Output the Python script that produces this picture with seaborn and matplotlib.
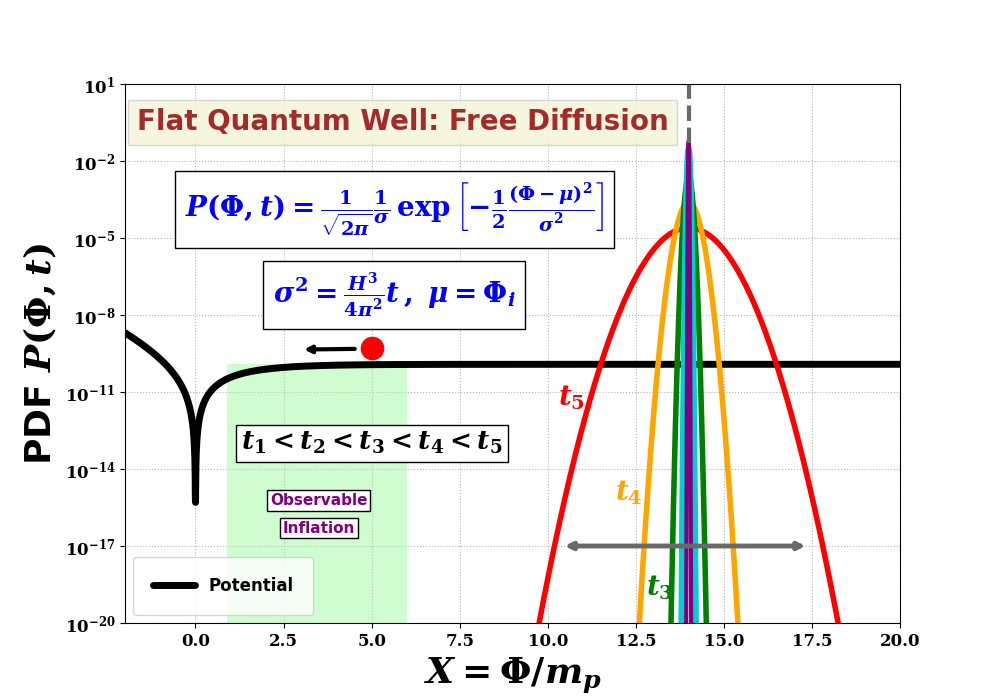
import matplotlib
matplotlib.use("Agg")
import matplotlib.pyplot as plt
import numpy as np
import seaborn as sns

# potential: plateau height, dip floor, Starobinsky-like slope
V0 = 1.2e-10
V_FLOOR = 1.5e-17
ALPHA = np.sqrt(2.0 / 3.0)

# gaussian snapshots: label, colour, peak height, width, line width
T_LABELS = ["t_1", "t_2", "t_3", "t_4", "t_5"]
T_COLORS = ["purple", "darkturquoise", "green", "orange", "red"]
T_PEAKS = [6e-2, 3e-2, 2.5e-3, 2.5e-4, 2.5e-5]
T_SIGMAS = [0.0075, 0.022, 0.056, 0.161, 0.504]
T_WIDTHS = [3, 4.5, 4, 4, 4]
MU = 14.0

sns.set_style("ticks")
plt.rcParams["font.family"] = ["DejaVu Serif"]
plt.rcParams["mathtext.fontset"] = "custom"
plt.rcParams["mathtext.rm"] = "DejaVu Serif:bold"
plt.rcParams["mathtext.it"] = "DejaVu Serif:bold:italic"
plt.rcParams["mathtext.bf"] = "DejaVu Serif:bold"
plt.rcParams["font.weight"] = "bold"
plt.rcParams["text.color"] = "black"
plt.rcParams["axes.labelcolor"] = "black"
plt.rcParams["xtick.color"] = "black"
plt.rcParams["ytick.color"] = "black"
plt.rcParams["axes.edgecolor"] = "black"

fig, ax = plt.subplots(figsize=(10, 7), dpi=100)

x = np.linspace(-2, 20, 4000)
v = V0 * (1 - np.exp(-ALPHA * x)) ** 2
v = np.maximum(v, V_FLOOR)
sns.lineplot(x=x, y=v, color="black", lw=5, ax=ax, label="Potential")

# diffusion gaussians (widest first so narrow ones lie on top)
for lab, col, pk, sg, w in reversed(list(zip(T_LABELS, T_COLORS, T_PEAKS, T_SIGMAS, T_WIDTHS))):
    xx = np.linspace(MU - 12 * sg, MU + 12 * sg, 2000)
    yy = pk * np.exp(-0.5 * (xx - MU) ** 2 / sg ** 2)
    ax.plot(xx, yy, color=col, lw=w)

ax.plot([MU, MU], [5e-2, 10], ls="--", color="dimgray", lw=3)
ax.fill_between([0.9, 6.0], 1e-20, 1.2e-10, color="palegreen", alpha=0.45, lw=0)
ax.plot(5.0, 5e-10, "o", color="red", ms=16)
ax.annotate("", xy=(3.0, 4.5e-10), xytext=(4.6, 4.8e-10),
            arrowprops=dict(arrowstyle="-|>", color="black", lw=3))
ax.annotate("", xy=(10.4, 1e-17), xytext=(17.4, 1e-17),
            arrowprops=dict(arrowstyle="<|-|>", color="dimgray", lw=3.5))

ax.set_yscale("log")
ax.set_xlim(-2, 20)
ax.set_ylim(1e-20, 10)
ax.set_yticks([10.0 ** k for k in range(-20, 2, 3)])
ax.grid(True, ls=":", color="gray", alpha=0.6)
for t in ax.get_xticklabels() + ax.get_yticklabels():
    t.set_fontweight("bold")
    t.set_fontsize(12)
ax.set_xlabel(r"$X = \Phi/m_p$", fontsize=26)
ax.set_ylabel(r"PDF $P(\Phi,t)$", fontsize=26, fontweight="bold", family="DejaVu Sans")

ax.text(0.015, 0.955, "Flat Quantum Well: Free Diffusion", transform=ax.transAxes,
        fontsize=20, fontweight="bold", color="brown", va="top", family="DejaVu Sans",
        bbox=dict(facecolor="beige", edgecolor="lightgray", alpha=0.9, pad=6))
ax.text(-0.3, 1.3e-4,
        r"$P(\Phi,t) = \frac{1}{\sqrt{2\pi}}\frac{1}{\sigma}\,\exp\left[-\frac{1}{2}\frac{(\Phi-\mu)^2}{\sigma^2}\right]$",
        fontsize=20, color="blue", va="center",
        bbox=dict(facecolor="white", edgecolor="black", pad=7))
ax.text(2.2, 6e-8, r"$\sigma^2 = \frac{H^3}{4\pi^2}t\,,\;\mu = \Phi_i$",
        fontsize=20, color="blue", va="center",
        bbox=dict(facecolor="white", edgecolor="black", pad=7))
ax.text(1.3, 1e-13, r"$t_1 < t_2 < t_3 < t_4 < t_5$", fontsize=19, color="black",
        va="center", bbox=dict(facecolor="white", edgecolor="black"))
ax.text(3.5, 6e-16, "Observable", fontsize=11, fontweight="bold", color="purple",
        ha="center", va="center", family="DejaVu Sans",
        bbox=dict(facecolor="white", edgecolor="black", pad=2))
ax.text(3.5, 5e-17, "Inflation", fontsize=11, fontweight="bold", color="purple",
        ha="center", va="center", family="DejaVu Sans",
        bbox=dict(facecolor="white", edgecolor="black", pad=2))

ax.text(10.3, 3e-12, r"$t_5$", fontsize=20, color="red")
ax.text(11.9, 6e-16, r"$t_4$", fontsize=20, color="orange")
ax.text(12.8, 1.2e-19, r"$t_3$", fontsize=20, color="green")

leg = ax.legend(loc="lower left", fontsize=12, borderpad=1.2, handlelength=2.5,
                prop={"family": "DejaVu Sans", "weight": "bold", "size": 12})

fig.savefig("out.png", dpi=100)
